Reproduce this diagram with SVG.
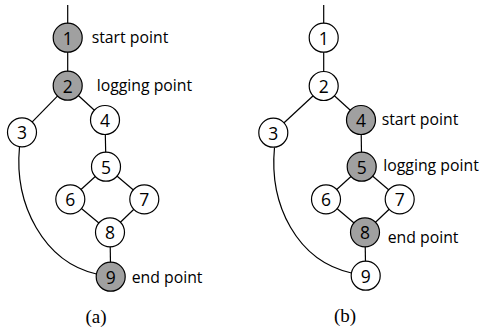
<svg xmlns="http://www.w3.org/2000/svg" width="482" height="335" viewBox="0 0 482 335">
  <style>
    .edge { stroke: #000; stroke-width: 1.2; fill: none; }
    .node circle { stroke: #000; stroke-width: 1.2; fill: #fff; }
    .node.hl circle { fill: #a0a0a0; }
    .node text { font-family: "Open Sans", "Liberation Sans", sans-serif; font-size: 17.5px; text-anchor: middle; fill: #000; }
    .note { font-family: "Open Sans", "Liberation Sans", sans-serif; font-size: 15.8px; fill: #000; }
    .cap { font-family: "Liberation Serif", serif; font-size: 19px; text-anchor: middle; fill: #000; }
  </style>
  <rect width="482" height="335" fill="#fff"/>

  <!-- panel (a) connectors -->
  <g id="edges-a">
    <line class="edge" x1="67.7" y1="5" x2="67.7" y2="37.7"/>
    <line class="edge" x1="67.7" y1="37.7" x2="67.7" y2="85.7"/>
    <line class="edge" x1="67.7" y1="85.7" x2="22" y2="132.3"/>
    <line class="edge" x1="67.7" y1="85.7" x2="105" y2="120"/>
    <line class="edge" x1="105" y1="120" x2="106" y2="166.7"/>
    <line class="edge" x1="106" y1="166.7" x2="70.3" y2="199.3"/>
    <line class="edge" x1="106" y1="166.7" x2="144.3" y2="199.3"/>
    <line class="edge" x1="70.3" y1="199.3" x2="110" y2="232.3"/>
    <line class="edge" x1="144.3" y1="199.3" x2="110" y2="232.3"/>
    <line class="edge" x1="110" y1="232.3" x2="110.7" y2="276.7"/>
    <path class="edge" d="M19.5,147 C14,205 44,262 96.5,274"/>
  </g>

  <!-- panel (a) nodes -->
  <g id="a1" class="node hl"><circle cx="67.7" cy="37.7" r="14.5"/><text x="67.7" y="44.5">1</text></g>
  <g id="a2" class="node hl"><circle cx="67.7" cy="85.7" r="14.5"/><text x="67.7" y="92.5">2</text></g>
  <g id="a3" class="node"><circle cx="22" cy="132.3" r="14.5"/><text x="22" y="139.1">3</text></g>
  <g id="a4" class="node"><circle cx="105" cy="120" r="14.5"/><text x="105" y="126.8">4</text></g>
  <g id="a5" class="node"><circle cx="106" cy="166.7" r="14.5"/><text x="106" y="173.5">5</text></g>
  <g id="a6" class="node"><circle cx="70.3" cy="199.3" r="14.5"/><text x="70.3" y="206.1">6</text></g>
  <g id="a7" class="node"><circle cx="144.3" cy="199.3" r="14.5"/><text x="144.3" y="206.1">7</text></g>
  <g id="a8" class="node"><circle cx="110" cy="232.3" r="14.5"/><text x="110" y="239.1">8</text></g>
  <g id="a9" class="node hl"><circle cx="110.7" cy="276.7" r="14.5"/><text x="110.7" y="283.5">9</text></g>

  <g id="labels-a">
    <text class="note" x="91.7" y="42.7">start point</text>
    <text class="note" x="96.7" y="91">logging point</text>
    <text class="note" x="131.7" y="282.5">end point</text>
    <text class="cap" x="96" y="323">(a)</text>
  </g>

  <!-- panel (b) connectors -->
  <g id="edges-b">
    <line class="edge" x1="323.7" y1="5" x2="323.7" y2="37.7"/>
    <line class="edge" x1="323.7" y1="37.7" x2="323.7" y2="86"/>
    <line class="edge" x1="323.7" y1="86" x2="273.3" y2="132.7"/>
    <line class="edge" x1="323.7" y1="86" x2="361" y2="120"/>
    <line class="edge" x1="361" y1="120" x2="361.7" y2="166.7"/>
    <line class="edge" x1="361.7" y1="166.7" x2="326" y2="199.3"/>
    <line class="edge" x1="361.7" y1="166.7" x2="399.7" y2="199.3"/>
    <line class="edge" x1="326" y1="199.3" x2="365" y2="232.3"/>
    <line class="edge" x1="399.7" y1="199.3" x2="365" y2="232.3"/>
    <line class="edge" x1="365" y1="232.3" x2="365.7" y2="275.7"/>
    <path class="edge" d="M274.5,147.5 C269,205 297,261 351.5,273"/>
  </g>

  <!-- panel (b) nodes -->
  <g id="b1" class="node"><circle cx="323.7" cy="37.7" r="14.5"/><text x="323.7" y="44.5">1</text></g>
  <g id="b2" class="node"><circle cx="323.7" cy="86" r="14.5"/><text x="323.7" y="92.8">2</text></g>
  <g id="b3" class="node"><circle cx="273.3" cy="132.7" r="14.5"/><text x="273.3" y="139.5">3</text></g>
  <g id="b4" class="node hl"><circle cx="361" cy="120" r="14.5"/><text x="361" y="126.8">4</text></g>
  <g id="b5" class="node hl"><circle cx="361.7" cy="166.7" r="14.5"/><text x="361.7" y="173.5">5</text></g>
  <g id="b6" class="node"><circle cx="326" cy="199.3" r="14.5"/><text x="326" y="206.1">6</text></g>
  <g id="b7" class="node"><circle cx="399.7" cy="199.3" r="14.5"/><text x="399.7" y="206.1">7</text></g>
  <g id="b8" class="node hl"><circle cx="365" cy="232.3" r="14.5"/><text x="365" y="239.1">8</text></g>
  <g id="b9" class="node"><circle cx="365.7" cy="275.7" r="14.5"/><text x="365.7" y="282.5">9</text></g>

  <g id="labels-b">
    <text class="note" x="381.7" y="125">start point</text>
    <text class="note" x="383.3" y="170.7">logging point</text>
    <text class="note" x="387.7" y="243.3">end point</text>
    <text class="cap" x="345" y="322">(b)</text>
  </g>
</svg>
